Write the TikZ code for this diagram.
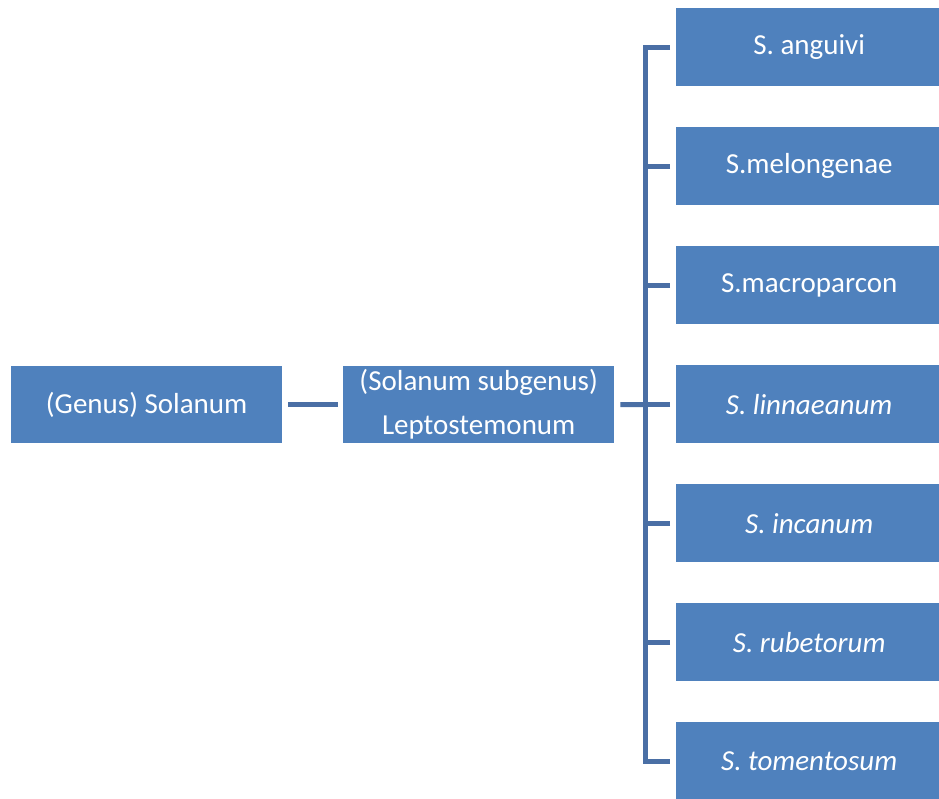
\documentclass[tikz,border=0pt]{standalone}
\usepackage{fontspec}
\setmainfont{Carlito}
\definecolor{boxblue}{HTML}{4F81BD}
\definecolor{lineblue}{HTML}{4A6FA5}
\begin{document}
\begin{tikzpicture}[x=1pt,y=-1pt,
  tbox/.style={fill=boxblue, draw=none, text=white, font=\fontsize{29}{44}\selectfont, align=center, inner sep=0pt, anchor=north west},
  conn/.style={draw=lineblue, line width=5pt}]
\useasboundingbox (0,0) rectangle (939,798);
\node[tbox, minimum width=271pt, minimum height=77pt] (genus) at (11,366) {(Genus) Solanum};
\node[tbox, minimum width=271pt, minimum height=77pt] (sub) at (343,366) {(Solanum subgenus)\\Leptostemonum};
\node[tbox, minimum width=266pt, minimum height=78pt] (s1) at (676,8) {S. anguivi};
\node[tbox, minimum width=266pt, minimum height=78pt] (s2) at (676,127) {S.melongenae};
\node[tbox, minimum width=266pt, minimum height=78pt] (s3) at (676,246) {S.macroparcon};
\node[tbox, minimum width=266pt, minimum height=78pt] (s4) at (676,365) {\itshape S. linnaeanum};
\node[tbox, minimum width=266pt, minimum height=78pt] (s5) at (676,484) {\itshape S. incanum};
\node[tbox, minimum width=266pt, minimum height=78pt] (s6) at (676,603) {\itshape S. rubetorum};
\node[tbox, minimum width=266pt, minimum height=78pt] (s7) at (676,722) {\itshape S. tomentosum};
\coordinate (trunk) at (645.5,404.5);
\draw[conn] ([xshift=6pt]genus.east) -- ([xshift=-5pt]sub.west);
\draw[conn] ([xshift=6pt]sub.east) -- (trunk);
\draw[conn] ([xshift=-6pt]s1.west) -| ([xshift=-30.5pt]s1.west) |- ([xshift=-6pt]s7.west);
\foreach \n in {s2,s3,s4,s5,s6}{
  \draw[conn] ([xshift=-6pt]\n.west) -- ([xshift=-30.5pt]\n.west);
}
\end{tikzpicture}
\end{document}
